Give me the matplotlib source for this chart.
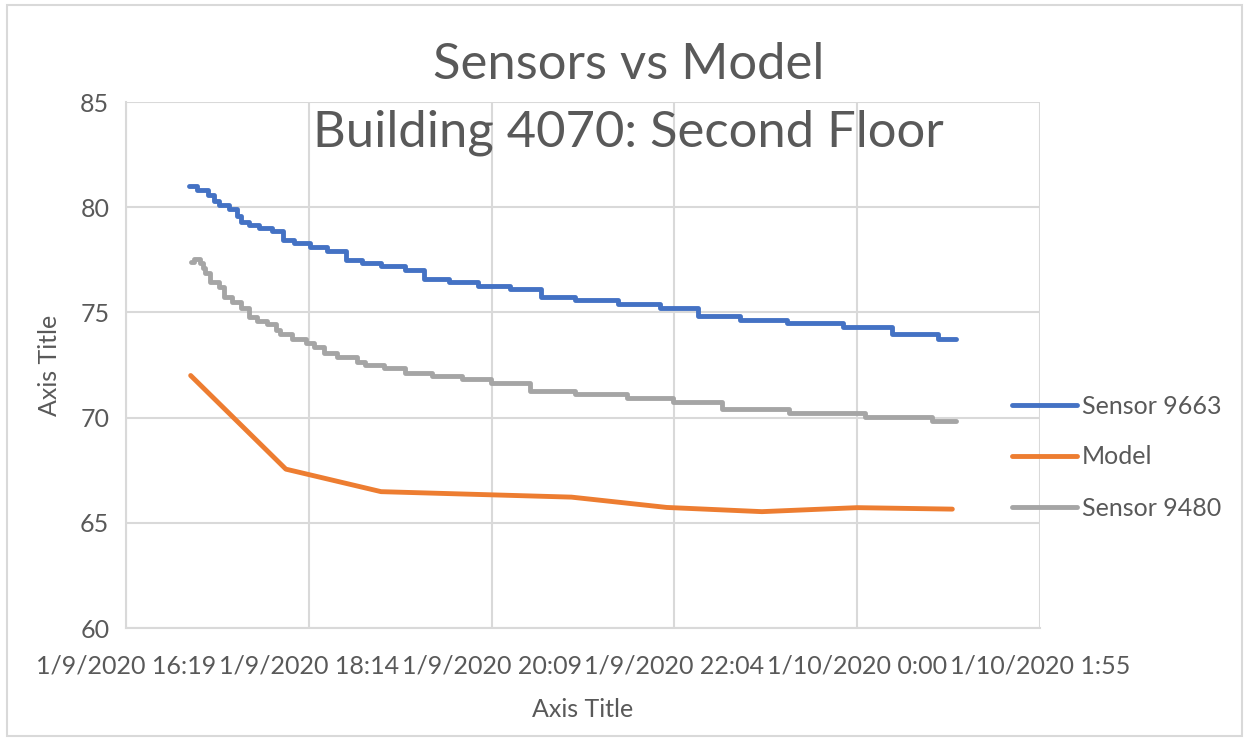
import datetime as dt
import matplotlib
matplotlib.use("Agg")
import matplotlib.pyplot as plt
import matplotlib.dates as mdates
from matplotlib.patches import Rectangle
import pandas as pd

# ---- data -------------------------------------------------------------
sensor_9663_times = [
    "2020-01-09 16:59", "2020-01-09 17:04", "2020-01-09 17:11", "2020-01-09 17:15",
    "2020-01-09 17:18", "2020-01-09 17:24", "2020-01-09 17:29", "2020-01-09 17:32",
    "2020-01-09 17:37", "2020-01-09 17:43", "2020-01-09 17:51", "2020-01-09 17:58",
    "2020-01-09 18:05", "2020-01-09 18:15", "2020-01-09 18:26", "2020-01-09 18:38",
    "2020-01-09 18:48", "2020-01-09 19:00", "2020-01-09 19:15", "2020-01-09 19:27",
    "2020-01-09 19:43", "2020-01-09 20:01", "2020-01-09 20:21", "2020-01-09 20:41",
    "2020-01-09 21:02", "2020-01-09 21:29", "2020-01-09 21:56", "2020-01-09 22:20",
    "2020-01-09 22:46", "2020-01-09 23:16", "2020-01-09 23:51", "2020-01-10 00:22",
    "2020-01-10 00:51", "2020-01-10 01:02",
]
sensor_9663_values = [
    81.0, 80.8, 80.6, 80.3, 80.1, 79.9, 79.6, 79.3, 79.15, 79.0, 78.85, 78.45,
    78.3, 78.1, 77.9, 77.5, 77.35, 77.2, 77.0, 76.6, 76.45, 76.25, 76.1, 75.75,
    75.6, 75.4, 75.2, 74.85, 74.65, 74.5, 74.3, 73.95, 73.75, 73.75,
]

sensor_9480_times = [
    "2020-01-09 17:00", "2020-01-09 17:02", "2020-01-09 17:06", "2020-01-09 17:08",
    "2020-01-09 17:09", "2020-01-09 17:12", "2020-01-09 17:18", "2020-01-09 17:21",
    "2020-01-09 17:26", "2020-01-09 17:32", "2020-01-09 17:37", "2020-01-09 17:42",
    "2020-01-09 17:48", "2020-01-09 17:54", "2020-01-09 17:56", "2020-01-09 18:04",
    "2020-01-09 18:13", "2020-01-09 18:18", "2020-01-09 18:24", "2020-01-09 18:32",
    "2020-01-09 18:45", "2020-01-09 18:50", "2020-01-09 19:02", "2020-01-09 19:15",
    "2020-01-09 19:32", "2020-01-09 19:51", "2020-01-09 20:09", "2020-01-09 20:34",
    "2020-01-09 21:02", "2020-01-09 21:35", "2020-01-09 22:04", "2020-01-09 22:35",
    "2020-01-09 23:17", "2020-01-10 00:05", "2020-01-10 00:47", "2020-01-10 01:02",
]
sensor_9480_values = [
    77.38, 77.52, 77.33, 77.1, 76.86, 76.46, 76.22, 75.75, 75.5, 75.2, 74.8, 74.6,
    74.45, 74.15, 73.95, 73.72, 73.56, 73.37, 73.06, 72.87, 72.66, 72.5, 72.34, 72.13,
    71.98, 71.82, 71.63, 71.28, 71.12, 70.92, 70.74, 70.4, 70.2, 70.04, 69.84, 69.84,
]

model_times = [
    "2020-01-09 17:00", "2020-01-09 18:00", "2020-01-09 19:00", "2020-01-09 20:00",
    "2020-01-09 21:00", "2020-01-09 22:00", "2020-01-09 23:00", "2020-01-10 00:00",
    "2020-01-10 01:00",
]
model_values = [72.0, 67.55, 66.48, 66.35, 66.22, 65.73, 65.53, 65.72, 65.65]

x_tick_labels = [
    "1/9/2020 16:19", "1/9/2020 18:14", "1/9/2020 20:09",
    "1/9/2020 22:04", "1/10/2020 0:00", "1/10/2020 1:55",
]
y_ticks = [60, 65, 70, 75, 80, 85]

# ---- style ------------------------------------------------------------
plt.rcParams["font.family"] = ["Lato", "DejaVu Sans"]
text_color = "#595959"
grid_color = "#d9d9d9"

fig = plt.figure(figsize=(12.47, 7.40), dpi=100)
ax = fig.add_axes([126 / 1247, 1 - 628 / 740, (1040 - 126) / 1247, (628 - 102) / 740])

# chart frame
fig.patches.append(Rectangle((7 / 1247, 1 - 736 / 740), (1242 - 7) / 1247, (736 - 5) / 740,
                             transform=fig.transFigure, fill=False,
                             edgecolor=grid_color, linewidth=1.5, zorder=0))

t_9663 = pd.to_datetime(sensor_9663_times)
t_9480 = pd.to_datetime(sensor_9480_times)
t_model = pd.to_datetime(model_times)

lw = 3.5
ax.plot(t_9663, sensor_9663_values, color="#4472C4", lw=lw, drawstyle="steps-post",
        solid_capstyle="round", solid_joinstyle="round", label="Sensor 9663", zorder=3)
ax.plot(t_model, model_values, color="#ED7D31", lw=lw,
        solid_capstyle="round", solid_joinstyle="round", label="Model", zorder=3)
ax.plot(t_9480, sensor_9480_values, color="#A5A5A5", lw=lw, drawstyle="steps-post",
        solid_capstyle="round", solid_joinstyle="round", label="Sensor 9480", zorder=3)

# date axis: start 16:19:15, major unit 0.08 day
x_start = dt.datetime(2020, 1, 9, 16, 19, 15)
step = dt.timedelta(days=0.08)
x_ticks = [x_start + i * step for i in range(len(x_tick_labels))]
ax.set_xlim(mdates.date2num(x_ticks[0]), mdates.date2num(x_ticks[-1]))
ax.set_xticks([mdates.date2num(t) for t in x_ticks])
ax.set_xticklabels(x_tick_labels)
ax.set_ylim(60, 85)
ax.set_yticks(y_ticks)

ax.grid(True, color=grid_color, linewidth=1.5, zorder=0)
ax.set_axisbelow(True)
for side in ("top", "right"):
    ax.spines[side].set_visible(False)
for side in ("left", "bottom"):
    ax.spines[side].set_color(grid_color)
    ax.spines[side].set_linewidth(1.5)
ax.tick_params(length=0, labelsize=18, colors=text_color)
ax.tick_params(axis="x", pad=19)
ax.tick_params(axis="y", pad=12)

ax.set_xlabel("Axis Title", fontsize=18, color=text_color, labelpad=15)
ax.set_ylabel("Axis Title", fontsize=18, color=text_color, labelpad=14)

fig.text(0.504, 1 - 65 / 740, "Sensors vs Model", ha="center", va="center",
         fontsize=36.5, color=text_color)
fig.text(0.504, 1 - 133 / 740, "Building 4070: Second Floor", ha="center", va="center",
         fontsize=36.5, color=text_color)

fig.legend(loc="center left", bbox_to_anchor=(989 / 1247, 1 - 457 / 740),
           frameon=False, fontsize=18, labelcolor=text_color,
           handlelength=2.6, handletextpad=0.2, labelspacing=1.12)

fig.savefig("out.png", dpi=100)
